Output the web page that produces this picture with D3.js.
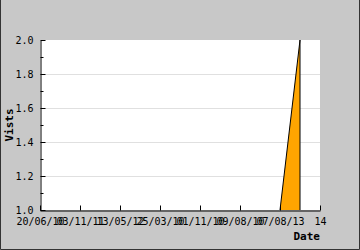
<!DOCTYPE html>
<html>
<head>
<meta charset="utf-8">
<script src="https://cdn.jsdelivr.net/npm/d3@7"></script>
<style>
body { margin: 0; }
svg text { font-family: "DejaVu Sans Mono", monospace; font-size: 10px; fill: #000; }
.grid line { stroke: #e0e0e0; }
</style>
</head>
<body>
<div id="chart"></div>
<script>
// tick labels along the date axis (they overlap in the original)
var dateLabels = ["20/06/10", "03/11/11", "13/05/12", "25/03/10", "01/11/10", "09/08/10", "07/08/13", "14"];
// data points: position on the date axis (in tick steps) and visits
var datePos = [0, 6, 6.5];
var visits = [1, 1, 2];

var svgWidth = 360;
var svgHeight = 250;

var margin = {
    top: 40,
    bottom: 40,
    right: 40,
    left: 40
};

var width = svgWidth - margin.left - margin.right;
var height = svgHeight - margin.top - margin.bottom;

var svg = d3.select("#chart")
    .append("svg")
    .attr("width", svgWidth)
    .attr("height", svgHeight);

// gray background with dark frame
svg.append("rect")
    .attr("width", svgWidth)
    .attr("height", svgHeight)
    .attr("fill", "#c8c8c8");

svg.append("path")
    .attr("d", `M0.5,0 V${svgHeight - 0.5} H${svgWidth - 0.5} V0`)
    .attr("fill", "none")
    .attr("stroke", "#333");

var chartGroup = svg.append("g")
    .attr("transform", `translate(${margin.left}, ${margin.top})`);

chartGroup.append("rect")
    .attr("width", width)
    .attr("height", height)
    .attr("fill", "#fff");

var xScale = d3.scaleLinear()
    .domain([0, dateLabels.length - 1])
    .range([0, width]);

var yScale = d3.scaleLinear()
    .domain([1, 2])
    .range([height, 0]);

// gridlines
chartGroup.append("g")
    .attr("class", "grid")
    .selectAll("line")
    .data([1.2, 1.4, 1.6, 1.8])
    .enter()
    .append("line")
    .attr("x1", 0)
    .attr("x2", width)
    .attr("y1", d => Math.round(yScale(d)) + 0.5)
    .attr("y2", d => Math.round(yScale(d)) + 0.5);

var data = datePos.map((p, i) => ({ x: p, y: visits[i] }));

var area = d3.area()
    .x(d => xScale(d.x))
    .y0(yScale(1))
    .y1(d => yScale(d.y));

chartGroup.append("path")
    .datum(data)
    .attr("d", area)
    .attr("fill", "#ffa500");

var line = d3.line()
    .x(d => xScale(d.x))
    .y(d => yScale(d.y));

// outline of the filled part (the flat run lies on the axis already)
var outline = data.slice(1).concat([{ x: datePos[datePos.length - 1], y: 1 }]);

chartGroup.append("path")
    .datum(outline)
    .attr("d", line)
    .attr("fill", "none")
    .attr("stroke", "#000")
    .attr("stroke-width", 1);

// y axis: major ticks labelled, minor ticks in between, ticks inside
var leftAxis = d3.axisLeft(yScale)
    .tickValues([1, 1.2, 1.4, 1.6, 1.8, 2])
    .tickFormat(d3.format(".1f"))
    .tickSizeInner(-5)
    .tickSizeOuter(0)
    .tickPadding(7);

var yAxis = chartGroup.append("g")
    .attr("transform", "translate(0.5, 0)")
    .call(leftAxis);

yAxis.append("g")
    .selectAll("line")
    .data([1.1, 1.3, 1.5, 1.7, 1.9])
    .enter()
    .append("line")
    .attr("x1", 0)
    .attr("x2", 3)
    .attr("y1", d => Math.round(yScale(d)) + 0.5)
    .attr("y2", d => Math.round(yScale(d)) + 0.5)
    .attr("stroke", "#000");

// x axis
var bottomAxis = d3.axisBottom(xScale)
    .tickValues(d3.range(dateLabels.length))
    .tickFormat(i => dateLabels[i])
    .tickSizeInner(-5)
    .tickSizeOuter(0)
    .tickPadding(7);

var xAxis = chartGroup.append("g")
    .attr("transform", `translate(0, ${height + 0.5})`)
    .call(bottomAxis);

svg.selectAll(".domain, .tick line").attr("stroke", "#000");
svg.selectAll(".tick text").attr("font-family", "DejaVu Sans Mono").attr("font-size", 10);

// axis titles
svg.append("text")
    .attr("transform", `translate(13, ${margin.top + height / 2}) rotate(-90)`)
    .attr("text-anchor", "middle")
    .attr("font-weight", "bold")
    .style("font-size", "11px")
    .text("Vists");

svg.append("text")
    .attr("x", margin.left + width)
    .attr("y", 240)
    .attr("text-anchor", "end")
    .attr("font-weight", "bold")
    .style("font-size", "11px")
    .text("Date");
</script>
</body>
</html>
